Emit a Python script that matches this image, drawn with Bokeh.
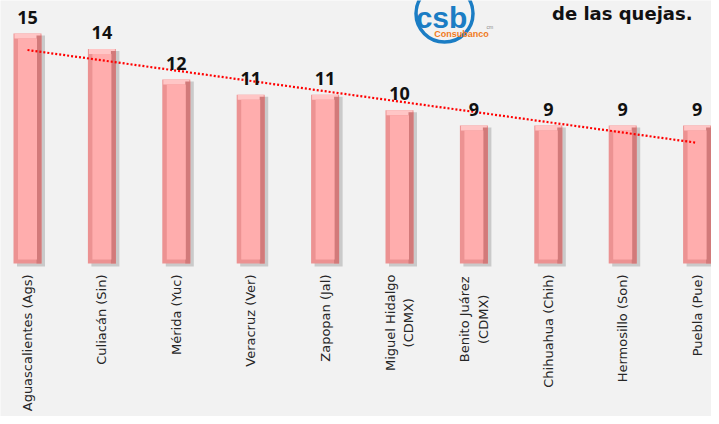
import numpy as np
from bokeh.plotting import figure
from bokeh.models import Range1d, ColumnDataSource
from bokeh.core.properties import value
from bokeh.embed import file_html
from bokeh.resources import INLINE

# ---- data ----
categories = ["Aguascalientes (Ags)", "Culiacán (Sin)", "Mérida (Yuc)", "Veracruz (Ver)",
              "Zapopan (Jal)", "Miguel Hidalgo\n(CDMX)", "Benito Juárez\n(CDMX)",
              "Chihuahua (Chih)", "Hermosillo (Son)", "Puebla (Pue)"]
quejas = [15, 14, 12, 11, 11, 10, 9, 9, 9, 9]
title_text = "de las quejas."

# ---- layout ----
W, H = 711, 416
PX_X = 74.4     # pixels per category
PX_Y = 15.33    # pixels per unit
X0_PX = 27      # pixel position of first category centre
ZERO_PX = 263   # pixel position of value 0 (from top)
x_start = -X0_PX / PX_X
x_end = x_start + W / PX_X
y_end = ZERO_PX / PX_Y
y_start = y_end - H / PX_Y

def px_x(px):
    return x_start + px / PX_X

def px_y(py):
    return y_end - py / PX_Y

BG = "#f2f2f2"
FONT = "Open Sans"
CAT_FONT = "DejaVu Sans"
CAT_FS = 13

p = figure(width=W, height=H, output_backend="svg", toolbar_location=None,
           x_range=Range1d(x_start, x_end), y_range=Range1d(y_start, y_end),
           min_border=0, min_border_left=0, min_border_right=0,
           min_border_top=0, min_border_bottom=0)
p.background_fill_color = BG
p.border_fill_color = BG
p.outline_line_color = None
p.axis.visible = False
p.grid.visible = False

xs = np.arange(len(quejas), dtype=float)
v = np.array(quejas, dtype=float)
bw = 28 / PX_X
bev_top = 5 / PX_Y
bev_bot = 4 / PX_Y
src = ColumnDataSource(dict(
    x=xs, v=v, lbl=[str(q) for q in quejas],
    v_lbl=v + 16.5 / PX_Y,
    xs_sh=xs + 3.5 / PX_X, v_sh=v - 2 / PX_Y,
    x_r=xs + (bw / 2 - 2.5 / PX_X),
    v_in=v - bev_top, v_in2=v - 2 / PX_Y,
))

# shadow
p.vbar(x="xs_sh", width=bw, top="v_sh", bottom=-3 / PX_Y, source=src,
       fill_color="#7a7a7a", fill_alpha=0.33, line_color=None)
# base body (edges)
p.vbar(x="x", width=bw, top="v", bottom=0, source=src,
       fill_color="#ec9292", line_color=None)
# top bevel highlight
p.vbar(x="x", width=bw - 2 / PX_X, top="v", bottom="v_in", source=src,
       fill_color="#ffc6c6", line_color=None)
# right dark edge
p.vbar(x="x_r", width=5 / PX_X, top="v_in2", bottom=0, source=src,
       fill_color="#d27a7a", line_color=None)
# inner face
p.vbar(x="x", width=bw - 9 / PX_X, top="v_in", bottom=bev_bot, source=src,
       fill_color="#ffadad", line_color=None)

# trend line (linear fit)
m, b = np.polyfit(xs, v, 1)
p.line(x=[xs[0], xs[-1]], y=[m * xs[0] + b, m * xs[-1] + b],
       line_color="#ff0000", line_width=2.2, line_dash="2 2")

# value labels
p.text(x="x", y="v_lbl", text="lbl", source=src,
       text_align="center", text_baseline="middle",
       text_font=value(FONT), text_font_style="bold", text_font_size="18px",
       text_color="#111111")

# category labels (rotated)
label_top = -11 / PX_Y
single = [i for i, c in enumerate(categories) if "\n" not in c]
multi = [i for i, c in enumerate(categories) if "\n" in c]
src_single = ColumnDataSource(dict(x=xs[single], cat=[categories[i] for i in single]))
# multi-line labels: centre the block under its top edge
half_len = [0.5 * max(len(s) for s in categories[i].split("\n")) * 0.53 * CAT_FS / PX_Y
            for i in multi]
src_multi = ColumnDataSource(dict(x=xs[multi], cat=[categories[i] for i in multi],
                                  y=[label_top - h for h in half_len]))
p.text(x="x", y=label_top, text="cat", source=src_single, angle=np.pi / 2,
       text_align="right", text_baseline="middle",
       text_font=value(CAT_FONT), text_font_size=f"{CAT_FS}px", text_color="#262626")
p.text(x="x", y="y", text="cat", source=src_multi, angle=np.pi / 2,
       text_align="center", text_baseline="middle", text_line_height=1.25,
       text_font=value(CAT_FONT), text_font_size=f"{CAT_FS}px", text_color="#262626")

# logo (decoration)
p.scatter(x=[px_x(444)], y=[px_y(13)], size=57, marker="circle",
          fill_color=None, line_color="#1b7dc4", line_width=3.5)
p.text(x=[px_x(441)], y=[px_y(17)], text=["csb"], text_align="center",
       text_baseline="middle", text_font=value("Liberation Sans"),
       text_font_style="bold", text_font_size="30px", text_color="#1b7dc4")
p.text(x=[px_x(461)], y=[px_y(33)], text=["Consubanco"], text_align="center",
       text_baseline="middle", text_font=value("Liberation Sans"),
       text_font_style="bold", text_font_size="9px", text_color="#f07a1c")
p.text(x=[px_x(486)], y=[px_y(26)], text=["cm"], text_align="left",
       text_baseline="middle", text_font=value("Liberation Sans"),
       text_font_size="5px", text_color="#888888")

# title fragment
p.text(x=[px_x(692)], y=[px_y(13)], text=[title_text], text_align="right",
       text_baseline="middle", text_font=value("DejaVu Sans"),
       text_font_style="bold", text_font_size="18px", text_color="#111111")

open("out.html", "w").write(file_html(p, INLINE))
